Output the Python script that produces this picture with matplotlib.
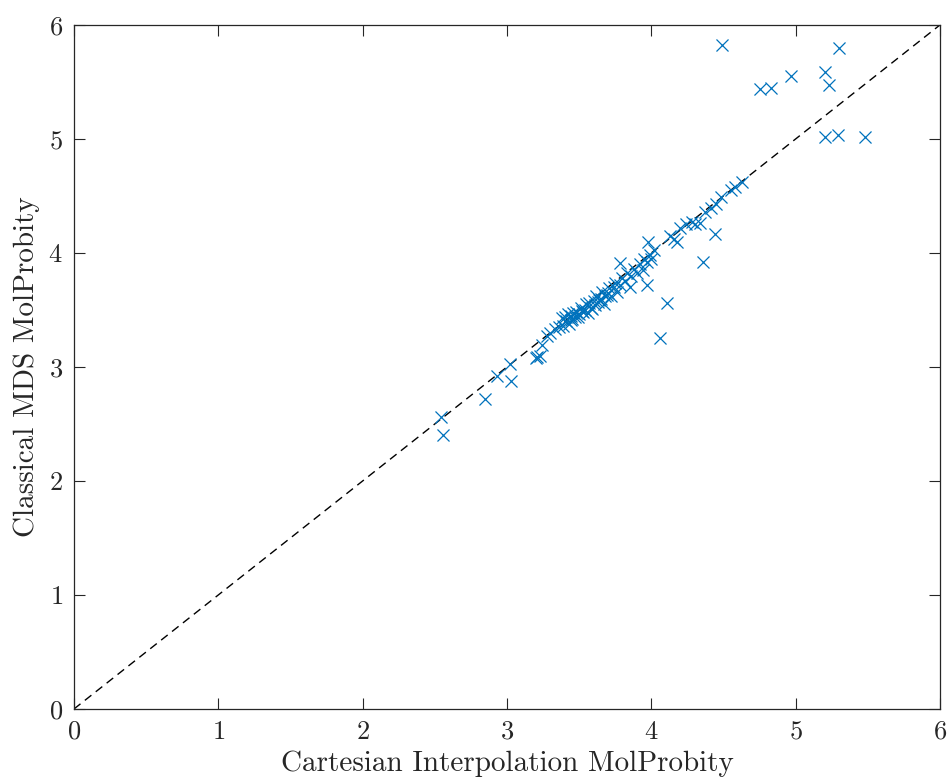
import matplotlib
matplotlib.use("Agg")
import matplotlib.pyplot as plt
import numpy as np

plt.rcParams['font.family'] = ['cmr10']
plt.rcParams['mathtext.fontset'] = 'cm'
plt.rcParams['axes.formatter.use_mathtext'] = True

cartesian = [2.54, 2.56, 2.85, 2.93, 3.02, 3.03, 3.21, 3.23, 3.20, 3.24, 3.28, 3.30, 3.33, 3.36,
             3.38, 3.40, 3.41, 3.42, 3.43, 3.44, 3.45, 3.46, 3.47, 3.48, 3.50, 3.51, 3.52, 3.54,
             3.55, 3.56, 3.57, 3.58, 3.60, 3.61, 3.62, 3.63, 3.65, 3.66, 3.67, 3.68, 3.70, 3.71,
             3.72, 3.74, 3.75, 3.76, 3.78, 3.78, 3.80, 3.82, 3.83, 3.85, 3.86, 3.88, 3.90, 3.92,
             3.94, 3.95, 3.97, 3.97, 3.98, 3.99, 4.00, 4.02, 4.06, 4.11, 4.13, 4.16, 4.18, 4.20,
             4.24, 4.28, 4.30, 4.34, 4.36, 4.37, 4.41, 4.44, 4.45, 4.48, 4.55, 4.58, 4.63,
             3.39, 3.44, 3.49, 3.53, 3.59, 3.64, 3.69,
             4.49, 5.30, 5.20, 5.23, 4.97, 4.75, 4.83, 5.20, 5.29, 5.48]
classical = [2.56, 2.40, 2.72, 2.92, 3.03, 2.88, 3.09, 3.10, 3.08, 3.19, 3.27, 3.30, 3.33, 3.35,
             3.43, 3.44, 3.40, 3.46, 3.38, 3.45, 3.42, 3.47, 3.44, 3.48, 3.46, 3.52, 3.49, 3.50,
             3.55, 3.47, 3.56, 3.52, 3.58, 3.54, 3.62, 3.57, 3.60, 3.66, 3.55, 3.62, 3.65, 3.69,
             3.62, 3.70, 3.74, 3.66, 3.91, 3.72, 3.78, 3.75, 3.82, 3.70, 3.80, 3.86, 3.82, 3.90,
             3.85, 3.95, 3.72, 3.92, 4.10, 3.98, 3.95, 4.03, 3.25, 3.56, 4.15, 4.12, 4.10, 4.22,
             4.25, 4.27, 4.25, 4.26, 3.92, 4.36, 4.39, 4.17, 4.43, 4.49, 4.55, 4.58, 4.62,
             3.36, 3.41, 3.44, 3.48, 3.51, 3.59, 3.63,
             5.82, 5.80, 5.59, 5.47, 5.55, 5.44, 5.45, 5.02, 5.03, 5.02]

axis_lim = [0, 6]
ticks = [0, 1, 2, 3, 4, 5, 6]

fig = plt.figure(figsize=(9.48, 7.78), dpi=100)
ax = fig.add_axes([0.078, 0.0887, 0.9136, 0.8793])

ax.plot(axis_lim, axis_lim, color='black', lw=1.0, linestyle=(0, (6, 4)), zorder=1)
ax.scatter(cartesian, classical, marker='x', s=75, color='#0072BD', linewidths=0.9, zorder=2)

ax.set_xlim(axis_lim)
ax.set_ylim(axis_lim)
ax.set_xticks(ticks)
ax.set_yticks(ticks)
ax.tick_params(direction='in', length=8, width=0.8, top=True, right=True,
               labelsize=19, colors='#262626', pad=8)
for s in ax.spines.values():
    s.set_linewidth(0.9)
    s.set_color('#262626')

ax.set_xlabel('Cartesian Interpolation MolProbity', fontsize=21, color='#262626', labelpad=5)
ax.set_ylabel('Classical MDS MolProbity', fontsize=21, color='#262626', labelpad=6)

fig.savefig('out.png', dpi=100)
